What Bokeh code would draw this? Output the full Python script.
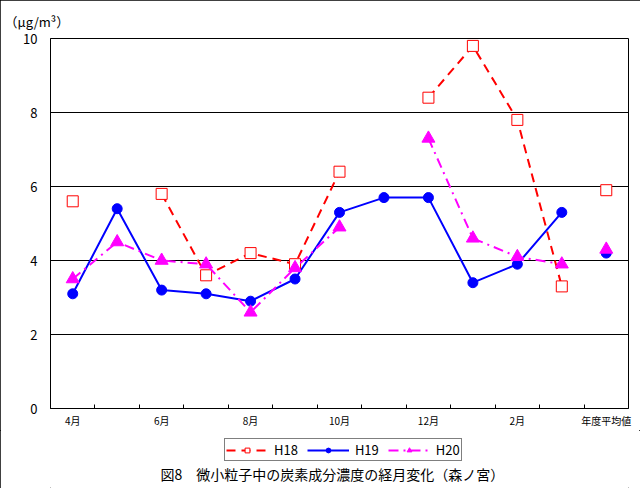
import numpy as np
from bokeh.plotting import figure
from bokeh.layouts import column
from bokeh.models import Range1d, Legend, LegendItem, Title, FixedTicker, Label
from bokeh.embed import file_html
from bokeh.resources import INLINE

nan = float("nan")

months = ["4月", "5月", "6月", "7月", "8月", "9月", "10月", "11月",
          "12月", "1月", "2月", "3月", "年度平均値"]
shown_labels = ["4月", "6月", "8月", "10月", "12月", "2月", "年度平均値"]

# H18: May, Nov missing; yearly average shown as separate point
h18 = [5.6, nan, 5.8, 3.6, 4.2, 3.9, 6.4, nan, 8.4, 9.8, 7.8, 3.3, nan]
h18_avg = 5.9
h19 = [3.1, 5.4, 3.2, 3.1, 2.9, 3.5, 5.3, 5.7, 5.7, 3.4, 3.9, 5.3, nan]
h19_avg = 4.2
h20 = [3.5, 4.5, 4.0, 3.9, 2.6, 3.8, 4.9, nan, 7.3, 4.6, 4.1, 3.9, nan]
h20_avg = 4.3

y_ticks = [0, 2, 4, 6, 8, 10]
series_names = ["H18", "H19", "H20"]
caption_text = "図8　微小粒子中の炭素成分濃度の経月変化（森ノ宮）"
unit_text = "（μg/m³）"

FONT = "Noto Sans CJK JP"
RED, BLUE, MAG = "#FF0000", "#0000FF", "#FF00FF"

# category positions on a numeric axis (one slot per category)
xc = [i + 0.5 for i in range(len(months))]
x_avg = [xc[-1]]

p = figure(x_range=Range1d(0, len(months)), y_range=Range1d(0, 10),
           frame_width=578, frame_height=370,
           min_border_left=50, min_border_right=12,
           min_border_top=38, min_border_bottom=22,
           output_backend="svg", toolbar_location=None,
           background_fill_color="white", border_fill_color="white")

p.outline_line_color = "black"
p.outline_line_width = 1
p.xgrid.visible = False
p.ygrid.grid_line_color = "black"
p.ygrid.grid_line_width = 1

p.yaxis.ticker = FixedTicker(ticks=y_ticks)
p.yaxis.major_tick_line_color = None
p.yaxis.major_tick_out = 0
p.yaxis.major_tick_in = 0
p.yaxis.minor_tick_line_color = None
p.yaxis.axis_line_color = "black"
p.yaxis.major_label_standoff = 13
p.yaxis.major_label_text_font = FONT
p.yaxis.major_label_text_font_size = "13px"
p.yaxis.major_label_text_color = "black"

shown_pos = [xc[months.index(m)] for m in shown_labels]
p.xaxis.ticker = FixedTicker(ticks=shown_pos,
                             minor_ticks=list(range(1, len(months))))
p.xaxis.major_label_overrides = {xc[months.index(m)]: m for m in shown_labels}
p.xaxis.major_tick_line_color = None
p.xaxis.major_tick_out = 0
p.xaxis.major_tick_in = 0
p.xaxis.minor_tick_line_color = "black"
p.xaxis.minor_tick_in = 4
p.xaxis.minor_tick_out = 0
p.xaxis.axis_line_color = "black"
p.xaxis.major_label_standoff = 4
p.xaxis.major_label_text_font = FONT
p.xaxis.major_label_text_font_size = "10px"
p.xaxis.major_label_text_color = "black"

STY = {
    "H18": dict(line=dict(line_color=RED, line_width=2, line_dash="9 6"),
                mark=dict(marker="square", size=11, line_color=RED,
                          fill_color="white", line_width=1)),
    "H19": dict(line=dict(line_color=BLUE, line_width=2),
                mark=dict(marker="circle", size=10, line_color=BLUE,
                          fill_color=BLUE)),
    "H20": dict(line=dict(line_color=MAG, line_width=2, line_dash="10 5 2 5"),
                mark=dict(marker="triangle", size=13, line_color=MAG,
                          fill_color=MAG)),
}

for name, vals, avg in zip(series_names, [h18, h19, h20], [h18_avg, h19_avg, h20_avg]):
    p.line(xc, vals, **STY[name]["line"])
    p.scatter(xc, vals, **STY[name]["mark"])
    p.scatter(x_avg, [avg], **STY[name]["mark"])

unit = Title(text=unit_text, align="left", offset=-46, standoff=16,
             text_font=FONT, text_font_size="13px", text_font_style="normal",
             text_color="black")
p.add_layout(unit, "above")

# bottom strip: legend and caption
H2 = 58
q = figure(width=640, height=H2, x_range=Range1d(0, 640), y_range=Range1d(0, H2),
           x_axis_type=None, y_axis_type=None, min_border=0,
           output_backend="svg", toolbar_location=None,
           background_fill_color="white", border_fill_color="white")
q.grid.visible = False
q.outline_line_color = None

items = []
for name in series_names:
    # legend-only renderers (a single missing value, nothing drawn)
    lr = q.line([nan], [nan], **STY[name]["line"])
    sr = q.scatter([nan], [nan], **STY[name]["mark"])
    items.append(LegendItem(label=name, renderers=[lr, sr]))

legend = Legend(items=items, location=(174, 27), orientation="horizontal",
                glyph_width=42, glyph_height=12, label_height=12,
                label_standoff=6, spacing=9, padding=1, margin=0,
                border_line_color="black", border_line_width=1,
                background_fill_color="white", background_fill_alpha=1,
                label_text_font=FONT, label_text_font_size="13px",
                label_text_color="black")
q.add_layout(legend, "center")

q.add_layout(Label(x=312, y=H2 - 43, text=caption_text, text_font=FONT,
                   text_font_size="14px", text_align="center",
                   text_baseline="middle", text_color="black"))

layout = column(p, q, spacing=0)
layout.styles = {"outline": "1px solid black", "outline-offset": "-1px"}

open("out.html", "w").write(file_html(layout, INLINE))
